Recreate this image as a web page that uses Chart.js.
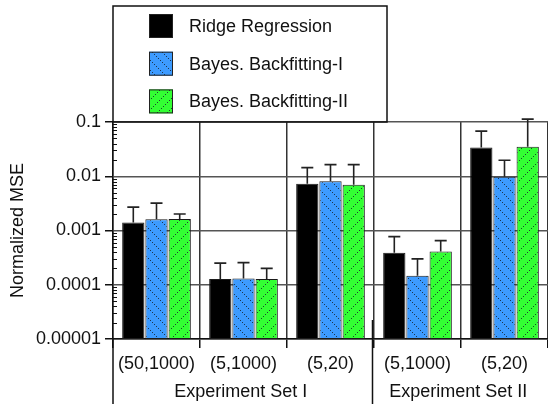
<!DOCTYPE html>
<html>
<head>
<meta charset="utf-8">
<script src="https://cdn.jsdelivr.net/npm/chart.js@4/dist/chart.umd.min.js"></script>
<style>
  html, body { margin: 0; padding: 0; background: #fff; }
  #wrap { width: 548px; height: 404px; }
</style>
</head>
<body>
<div id="wrap"><canvas id="c"></canvas></div>
<script>
const categories = ['(50,1000)', '(5,1000)', '(5,20)', '(5,1000)', '(5,20)'];
const groupLabels = ['Experiment Set I', 'Experiment Set II'];
const groupSizes = [3, 2];
const seriesNames = ['Ridge Regression', 'Bayes. Backfitting-I', 'Bayes. Backfitting-II'];
// mean normalized MSE and top of the error bar
const ridgeMse = [0.0014, 0.000127, 0.0073, 0.00039, 0.034];
const ridgeErr = [0.0027, 0.00025, 0.0144, 0.00077, 0.068];
const bbf1Mse = [0.00162, 0.00013, 0.0081, 0.000146, 0.0098];
const bbf1Err = [0.0032, 0.000256, 0.0164, 0.0003, 0.0197];
const bbf2Mse = [0.00163, 0.000127, 0.0070, 0.00041, 0.035];
const bbf2Err = [0.00202, 0.0002, 0.0164, 0.00065, 0.113];
const yTicks = [0.00001, 0.0001, 0.001, 0.01, 0.1];
const yTickLabels = ['0.00001', '0.0001', '0.001', '0.01', '0.1'];
const minorSteps = [2, 3, 4, 5, 6, 7, 8, 9];

const FONT = { family: "'Liberation Sans', Arial, sans-serif", size: 18 };
const INK = '#111';

// dotted diagonal hatch on a solid colour
function hatch(bg, dir) {
  const s = 10;
  const c = document.createElement('canvas');
  c.width = s; c.height = s;
  const g = c.getContext('2d');
  g.fillStyle = bg;
  g.fillRect(0, 0, s, s);
  g.fillStyle = 'rgba(20,30,40,0.8)';
  for (let i = 0; i < s; i += 2) {
    const x = dir > 0 ? i : s - 1 - i;
    g.fillRect(x, i, 1, 1);
  }
  return g.createPattern(c, 'repeat');
}

const blueFill = hatch('#3d9bff', 1);
const greenFill = hatch('#33ff33', -1);

const errorBars = {
  id: 'errorBars',
  afterDatasetsDraw(chart) {
    const { ctx } = chart;
    const y = chart.scales.y;
    chart.data.datasets.forEach((ds, di) => {
      chart.getDatasetMeta(di).data.forEach((bar, i) => {
        const top = y.getPixelForValue(ds.errUp[i]);
        ctx.save();
        ctx.strokeStyle = '#222';
        ctx.lineWidth = 1.6;
        ctx.beginPath();
        ctx.moveTo(bar.x, bar.y);
        ctx.lineTo(bar.x, top);
        ctx.moveTo(bar.x - 6, top);
        ctx.lineTo(bar.x + 6, top);
        ctx.stroke();
        ctx.restore();
      });
    });
  }
};

const decorations = {
  id: 'decorations',
  afterDraw(chart) {
    const { ctx, chartArea: a } = chart;
    const x = chart.scales.x, y = chart.scales.y;
    const H = chart.height;
    ctx.save();
    ctx.strokeStyle = INK;

    // minor ticks inside the y axis
    ctx.lineWidth = 1;
    ctx.beginPath();
    yTicks.slice(0, -1).forEach(d => {
      minorSteps.forEach(m => {
        const py = Math.round(y.getPixelForValue(d * m)) + 0.5;
        ctx.moveTo(a.left, py);
        ctx.lineTo(a.left + 4, py);
      });
    });
    ctx.stroke();

    // y axis line continues down past the category labels
    ctx.lineWidth = 1.5;
    ctx.beginPath();
    ctx.moveTo(a.left, a.bottom);
    ctx.lineTo(a.left, H);
    // separator between experiment sets
    let idx = 0;
    const sepX = [];
    groupSizes.slice(0, -1).forEach(n => {
      idx += n;
      const px = (x.getPixelForValue(idx - 1) + x.getPixelForValue(idx)) / 2 - 1.5;
      sepX.push(px);
      ctx.moveTo(px, a.bottom - 19);
      ctx.lineTo(px, H);
    });
    ctx.stroke();

    // group labels
    ctx.fillStyle = INK;
    ctx.font = `${FONT.size}px ${FONT.family}`;
    ctx.textAlign = 'center';
    ctx.textBaseline = 'middle';
    groupSizes.forEach((n, gi) => {
      const l = gi === 0 ? a.left : sepX[gi - 1];
      const r = gi === groupSizes.length - 1 ? a.right : sepX[gi];
      ctx.fillText(groupLabels[gi], (l + r) / 2 - 2, a.bottom + 53);
    });

    // legend box
    const bx = a.left, by = 6, bw = 274, bh = a.top - by;
    ctx.lineWidth = 1.5;
    ctx.strokeRect(bx, by, bw, bh);
    ctx.textAlign = 'left';
    chart.data.datasets.forEach((ds, i) => {
      const cy = 26 + i * 37.7;
      ctx.fillStyle = ds.backgroundColor;
      ctx.fillRect(bx + 36, cy - 12, 24, 24);
      ctx.strokeStyle = '#222';
      ctx.lineWidth = 1;
      ctx.strokeRect(bx + 36.5, cy - 11.5, 23, 23);
      ctx.fillStyle = INK;
      ctx.fillText(ds.label, bx + 76, cy + 1);
    });
    ctx.restore();
  }
};

new Chart(document.getElementById('c'), {
  type: 'bar',
  data: {
    labels: categories,
    datasets: [
      { label: seriesNames[0], data: ridgeMse, errUp: ridgeErr, backgroundColor: '#000' },
      { label: seriesNames[1], data: bbf1Mse, errUp: bbf1Err, backgroundColor: blueFill },
      { label: seriesNames[2], data: bbf2Mse, errUp: bbf2Err, backgroundColor: greenFill }
    ].map(d => Object.assign(d, {
      borderColor: '#1a1a1a', borderWidth: 1, borderSkipped: false,
      categoryPercentage: 0.8, barPercentage: 0.96
    }))
  },
  options: {
    responsive: true,
    maintainAspectRatio: false,
    animation: false,
    layout: { padding: { top: 122, left: 0, right: 0, bottom: 0 } },
    plugins: { legend: { display: false }, tooltip: { enabled: false } },
    scales: {
      x: {
        grid: { offset: true, color: '#333', lineWidth: 1.5, tickLength: 9, tickColor: INK },
        border: { color: INK, width: 1.5 },
        ticks: { font: FONT, color: INK, padding: 5, autoSkip: false, maxRotation: 0 },
        afterFit: s => { s.height = 65; }
      },
      y: {
        type: 'logarithmic',
        min: 0.00001,
        max: 0.1,
        afterBuildTicks: s => { s.ticks = yTicks.map(v => ({ value: v })); },
        ticks: { font: FONT, color: INK, padding: 4, callback: (v, i) => yTickLabels[i] },
        grid: { color: '#555', lineWidth: 1.5, tickLength: 8, tickColor: INK },
        border: { color: INK, width: 1.5 },
        title: { display: true, text: 'Normalized MSE', font: FONT, color: INK, padding: { top: 7, bottom: 0 } },
        afterFit: s => { s.width = 113; }
      }
    }
  },
  plugins: [errorBars, decorations]
});
</script>
</body>
</html>
